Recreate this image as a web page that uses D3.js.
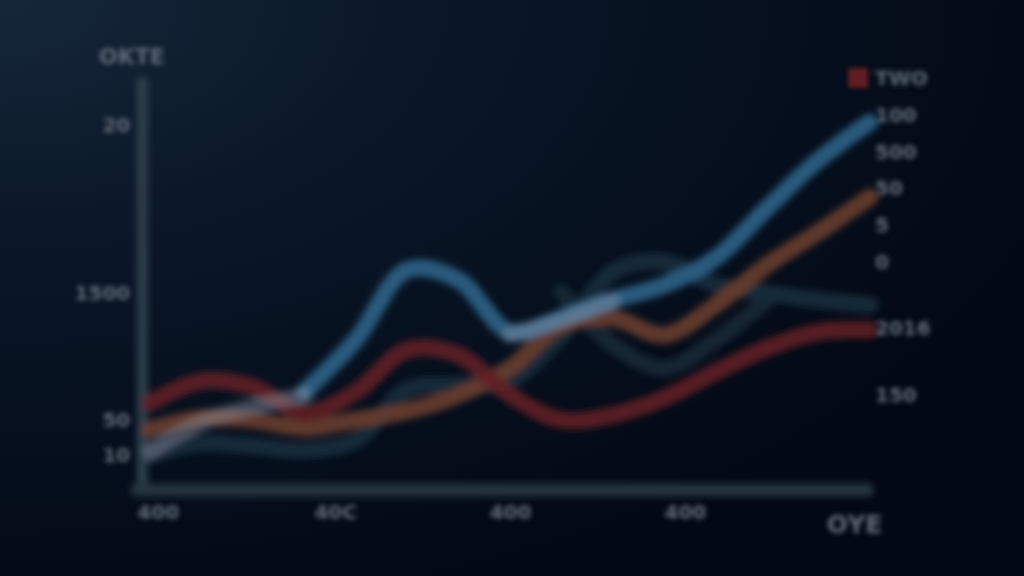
<!DOCTYPE html>
<html><head><meta charset="utf-8">
<script src="https://cdn.jsdelivr.net/npm/d3@7"></script>
<style>
html,body{margin:0;padding:0;background:#040b17;}
svg{display:block;}
text{font-family:"DejaVu Sans",sans-serif;}
</style></head>
<body>
<svg id="c" width="1024" height="576"></svg>
<script>
// ---- data ----
const xIndex = [0,1,2,3,4,5,6,7,8,9,10,11,12,13,14];
const blueVals   = [null,null,null,98,150,220,210,158,172,190,205,232,282,330,368];
const orangeVals = [60,72,70,62,70,79,95,122,165,172,155,185,225,258,293];
const redVals    = [87,109,103,77,98,140,135,95,70,75,92,118,142,158,160];
const lightVals  = [38,68,83,95,null,null,null,155,170,189,null,null,null,null,null];
const darkVals   = [35,47,44,40,50,100,105,110,155,218,228,205,197,190,185];
const dark2Vals  = [null,null,null,null,null,null,null,null,198,145,122,150,190,null,null];
const leftTicks  = [365,197,70,35];
const leftLabels = ["20","1500","50","10"];
const rightTicks = [412,375,338,302,265,228,162,95];
const rightLabels= ["TWO","100","500","50","5","0","2016","150"];
const xTicks     = [0.15,3.6,7,10.4];
const xLabels    = ["400","40C","400","400"];
const titleText  = "OKTE";
const xEndLabel  = "OYE";

const svg = d3.select("#c");
const W = 1024, H = 576;
const defs = svg.append("defs");
const bg = defs.append("radialGradient").attr("id","bg").attr("cx","0%").attr("cy","0%").attr("r","110%");
bg.append("stop").attr("offset","0%").attr("stop-color","#16273a");
bg.append("stop").attr("offset","35%").attr("stop-color","#0a1828");
bg.append("stop").attr("offset","75%").attr("stop-color","#050e1c");
bg.append("stop").attr("offset","100%").attr("stop-color","#030914");
const f = defs.append("filter").attr("id","blur").attr("x","-10%").attr("y","-10%").attr("width","120%").attr("height","120%");
f.append("feGaussianBlur").attr("stdDeviation",3.8);
const f2 = defs.append("filter").attr("id","blur2").attr("x","-10%").attr("y","-10%").attr("width","120%").attr("height","120%");
f2.append("feGaussianBlur").attr("stdDeviation",2.6);

svg.append("rect").attr("width",W).attr("height",H).attr("fill","url(#bg)");

const x = d3.scaleLinear().domain([0,14]).range([150,870]);
const y = d3.scaleLinear().domain([0,410]).range([490,80]);

const g = svg.append("g").attr("filter","url(#blur)");

// axes lines
g.append("line").attr("x1",x(-0.15)).attr("x2",x(-0.15)).attr("y1",y(408)).attr("y2",y(0))
  .attr("stroke","#2d3c4c").attr("stroke-width",11).attr("stroke-linecap","round");
g.append("line").attr("x1",x(-0.25)).attr("x2",x(13.95)).attr("y1",y(0)).attr("y2",y(0))
  .attr("stroke","#27343f").attr("stroke-width",13).attr("stroke-linecap","round");

const line = d3.line().defined(d=>d[1]!=null).x(d=>x(d[0])).y(d=>y(d[1])).curve(d3.curveCatmullRom.alpha(0.5));
function draw(vals,color,width,op){
  g.append("path").datum(xIndex.map((i,k)=>[i,vals[k]]))
   .attr("d",line).attr("fill","none").attr("stroke",color)
   .attr("stroke-width",width).attr("stroke-linecap","round").attr("stroke-opacity",op);
}
draw(darkVals,"#1d3040",17,0.8);
draw(dark2Vals,"#1a2b39",17,0.75);
draw(orangeVals,"#6e3f2d",17,0.85);
draw(redVals,"#622126",17,0.88);
draw(blueVals,"#2c6286",17,0.9);
draw(lightVals,"#9ea2b6",16,0.38);

// text axes
const tg = svg.append("g").attr("filter","url(#blur2)");
const axL = d3.axisLeft(y).tickValues(leftTicks).tickFormat((d,i)=>leftLabels[i]).tickSize(0).tickPadding(0);
const gl = tg.append("g").attr("transform",`translate(${x(-0.15)-12},0)`).call(axL);
const axR = d3.axisRight(y).tickValues(rightTicks).tickFormat((d,i)=>rightLabels[i]).tickSize(0).tickPadding(0);
const gr = tg.append("g").attr("transform",`translate(${x(14)+5},0)`).call(axR);
const axB = d3.axisBottom(x).tickValues(xTicks).tickFormat((d,i)=>xLabels[i]).tickSize(0).tickPadding(0);
const gb = tg.append("g").attr("transform",`translate(0,${y(0)+15})`).call(axB);
[gl,gr,gb].forEach(a=>{a.select(".domain").remove();a.selectAll("text").attr("fill","#626c78").attr("font-size",20).attr("font-weight","bold").style("font-family","DejaVu Sans");});

tg.append("text").attr("x",x(-0.35)).attr("y",y(432)).attr("text-anchor","middle").attr("dominant-baseline","middle")
  .attr("font-size",22).attr("font-weight","bold").attr("fill","#626c78").text(titleText);
tg.append("text").attr("x",x(13.7)).attr("y",y(0)+36).attr("text-anchor","middle").attr("dominant-baseline","middle")
  .attr("font-size",25).attr("font-weight","bold").attr("fill","#626c78").text(xEndLabel);
// legend swatch
tg.append("rect").attr("x",x(14)-22).attr("y",y(412)-10).attr("width",20).attr("height",20).attr("fill","#621f22");
</script>
</body></html>
